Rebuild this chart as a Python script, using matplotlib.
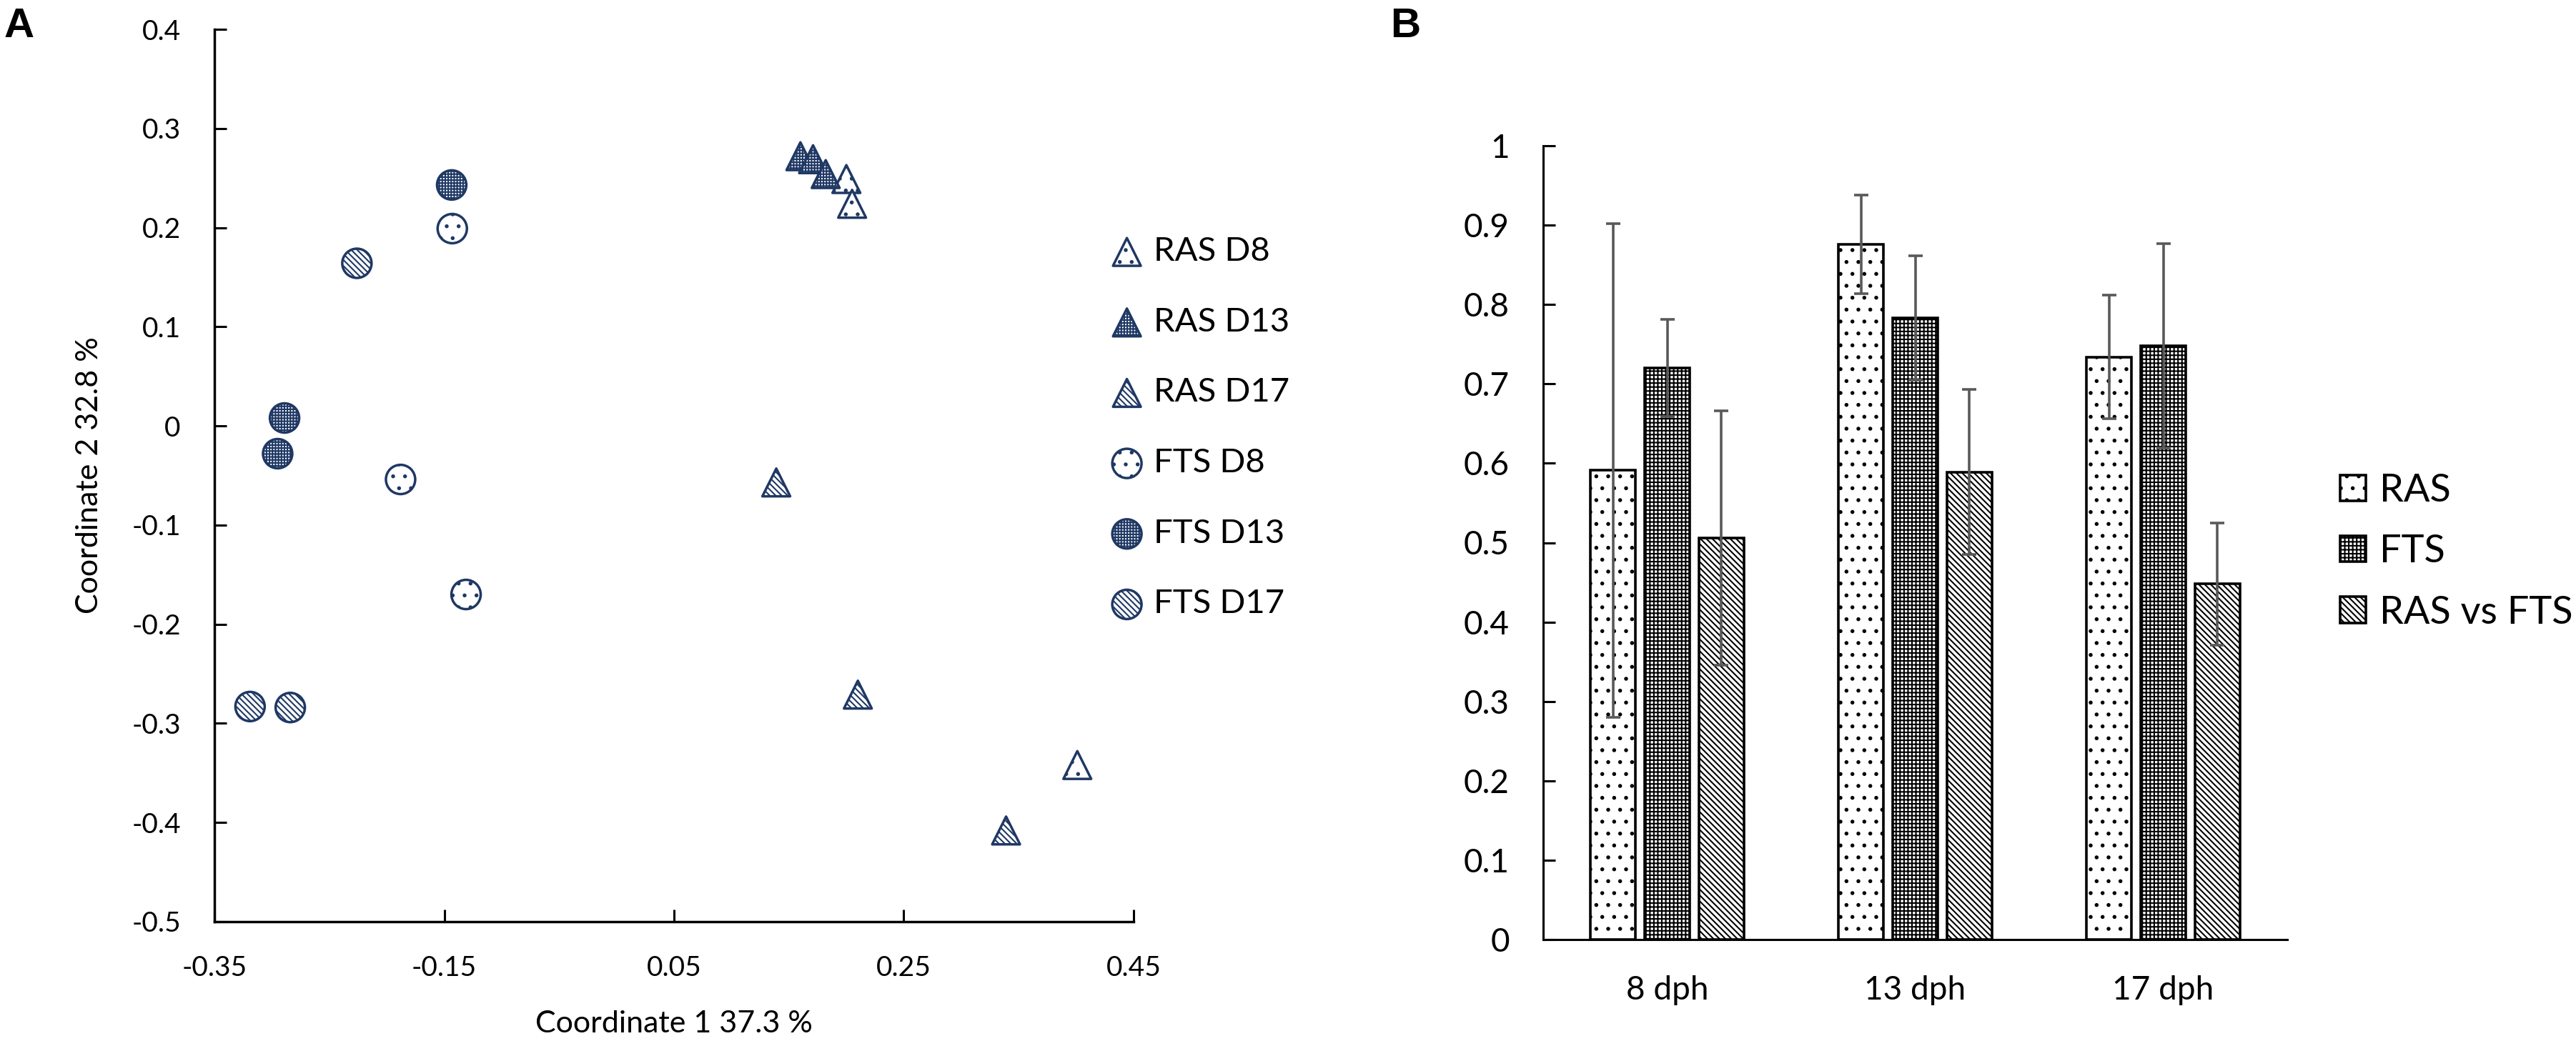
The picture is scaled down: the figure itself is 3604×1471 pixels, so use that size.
import matplotlib
matplotlib.use('Agg')
import matplotlib.pyplot as plt
from matplotlib import font_manager
import numpy as np


def pick(*names):
    for n in names:
        try:
            font_manager.findfont(font_manager.FontProperties(family=n), fallback_to_default=False)
            return n
        except Exception:
            pass
    return 'DejaVu Sans'


FONT = pick('Lato', 'Open Sans', 'Liberation Sans')
BOLD = pick('Liberation Sans', 'DejaVu Sans')
plt.rcParams['font.family'] = [FONT, 'DejaVu Sans']
plt.rcParams['hatch.linewidth'] = 1.5

NAVY = '#1f3864'
plt.rcParams['hatch.color'] = NAVY

# ---------------- Data: panel A (PCoA) ----------------
ras_d8_x = [0.200, 0.205, 0.401]
ras_d8_y = [0.249, 0.224, -0.342]
ras_d13_x = [0.160, 0.171, 0.182]
ras_d13_y = [0.272, 0.269, 0.254]
ras_d17_x = [0.139, 0.210, 0.339]
ras_d17_y = [-0.057, -0.271, -0.408]
fts_d8_x = [-0.143, -0.188, -0.131]
fts_d8_y = [0.199, -0.054, -0.170]
fts_d13_x = [-0.1435, -0.289, -0.295]
fts_d13_y = [0.243, 0.008, -0.028]
fts_d17_x = [-0.226, -0.319, -0.284]
fts_d17_y = [0.164, -0.283, -0.284]

group_labels = ['RAS D8', 'RAS D13', 'RAS D17', 'FTS D8', 'FTS D13', 'FTS D17']
xticks_a = [-0.35, -0.15, 0.05, 0.25, 0.45]
yticks_a = [0.4, 0.3, 0.2, 0.1, 0, -0.1, -0.2, -0.3, -0.4, -0.5]

# ---------------- Data: panel B (bars) ----------------
categories = ['8 dph', '13 dph', '17 dph']
ras_vals = [0.591, 0.876, 0.734]
ras_err = [0.311, 0.062, 0.078]
fts_vals = [0.720, 0.783, 0.748]
fts_err = [0.061, 0.078, 0.129]
rvf_vals = [0.506, 0.589, 0.448]
rvf_err = [0.160, 0.104, 0.077]
series_labels = ['RAS', 'FTS', 'RAS vs FTS']
yticks_b = [0, 0.1, 0.2, 0.3, 0.4, 0.5, 0.6, 0.7, 0.8, 0.9, 1]

W, H = 3605, 1471
fig = plt.figure(figsize=(W / 100, H / 100), dpi=100)

# ================= Panel A =================
axA = fig.add_axes([300 / W, 1 - 1290 / H, 1286 / W, 1249 / H])
axA.set_xlim(-0.35, 0.45)
axA.set_ylim(-0.5, 0.4)

tri_size = 28
circ_size = 29.5
mk_lw = 2.5
styles = [
    (ras_d8_x, ras_d8_y, '^', tri_size, '.'),
    (ras_d13_x, ras_d13_y, '^', tri_size, '++++'),
    (ras_d17_x, ras_d17_y, '^', tri_size, '\\\\\\\\'),
    (fts_d8_x, fts_d8_y, 'o', circ_size, '.'),
    (fts_d13_x, fts_d13_y, 'o', circ_size, '++++'),
    (fts_d17_x, fts_d17_y, 'o', circ_size, '\\\\\\\\'),
]
handles = []
for (xs, ys, m, sz, hatch), lab in zip(styles, group_labels):
    sc = axA.scatter(xs, ys, marker=m, s=sz ** 2, facecolor='white', edgecolor=NAVY,
                     linewidths=mk_lw, hatch=hatch, zorder=3, label=lab)
    handles.append(sc)

for side in ['top', 'right']:
    axA.spines[side].set_visible(False)
for side in ['left', 'bottom']:
    axA.spines[side].set_linewidth(2.5)
axA.set_xticks(xticks_a)
axA.set_xticklabels([f'{v:g}' for v in xticks_a])
axA.set_yticks(yticks_a)
axA.set_yticklabels([f'{v:g}' for v in yticks_a])
axA.tick_params(axis='both', direction='in', length=12, width=2.2, labelsize=28, pad=34)

fig.text(943 / W, 1 - 1433 / H, 'Coordinate 1 37.3 %', ha='center', va='center', fontsize=31)
fig.text(125 / W, 1 - 665 / H, 'Coordinate 2 32.8 %', ha='center', va='center',
         rotation=90, fontsize=31)

legA = axA.legend(handles=handles, labels=group_labels, loc='upper left',
                  bbox_to_anchor=(1553 / W, 1 - 331 / H), bbox_transform=fig.transFigure,
                  frameon=False, fontsize=34, scatterpoints=1, handlelength=1.0,
                  handletextpad=0.3, labelspacing=1.2, borderpad=0, borderaxespad=0)

# ================= Panel B =================
axB = fig.add_axes([2159 / W, 1 - 1315 / H, 1041 / W, 1111 / H])
axB.set_xlim(0, 3)
axB.set_ylim(0, 1)
xc = np.arange(len(categories)) + 0.5
bw = 0.182
off = 0.219
bar_lw = 2.6
err_kw = dict(fmt='none', ecolor='#595959', elinewidth=2.6, capsize=7, capthick=2.6, zorder=4)

b1 = axB.bar(xc - off, ras_vals, bw, facecolor='white', edgecolor='black', linewidth=bar_lw,
             hatch='.', zorder=2, label=series_labels[0])
b2 = axB.bar(xc, fts_vals, bw, facecolor='white', edgecolor='black', linewidth=bar_lw,
             hatch='+++', zorder=2, label=series_labels[1])
b3 = axB.bar(xc + off, rvf_vals, bw, facecolor='white', edgecolor='black', linewidth=bar_lw,
             hatch='\\\\\\\\', zorder=2, label=series_labels[2])
axB.errorbar(xc - off, ras_vals, yerr=ras_err, **err_kw)
axB.errorbar(xc, fts_vals, yerr=fts_err, **err_kw)
axB.errorbar(xc + off, rvf_vals, yerr=rvf_err, **err_kw)

for side in ['top', 'right']:
    axB.spines[side].set_visible(False)
for side in ['left', 'bottom']:
    axB.spines[side].set_linewidth(2.2)
axB.set_yticks(yticks_b)
axB.set_yticklabels([f'{v:g}' for v in yticks_b])
axB.set_xticks(xc)
axB.set_xticklabels(categories)
axB.tick_params(axis='y', direction='in', length=12, width=2.2, labelsize=33, pad=34)
axB.tick_params(axis='x', length=0, labelsize=33, pad=36)

legB = axB.legend(handles=[b1, b2, b3], labels=series_labels, loc='upper left',
                  bbox_to_anchor=(3274 / W, 1 - 662 / H), bbox_transform=fig.transFigure,
                  frameon=False, fontsize=39, handlelength=0.67, handleheight=0.65,
                  handletextpad=0.34, labelspacing=0.67, borderpad=0, borderaxespad=0)

# panel letters
fig.text(6 / W, 1 - 52 / H, 'A', fontsize=42, fontweight='bold', family=BOLD, va='baseline')
fig.text(1945 / W, 1 - 52 / H, 'B', fontsize=42, fontweight='bold', family=BOLD, va='baseline')

fig.savefig('out.png', dpi=100, facecolor='white')
